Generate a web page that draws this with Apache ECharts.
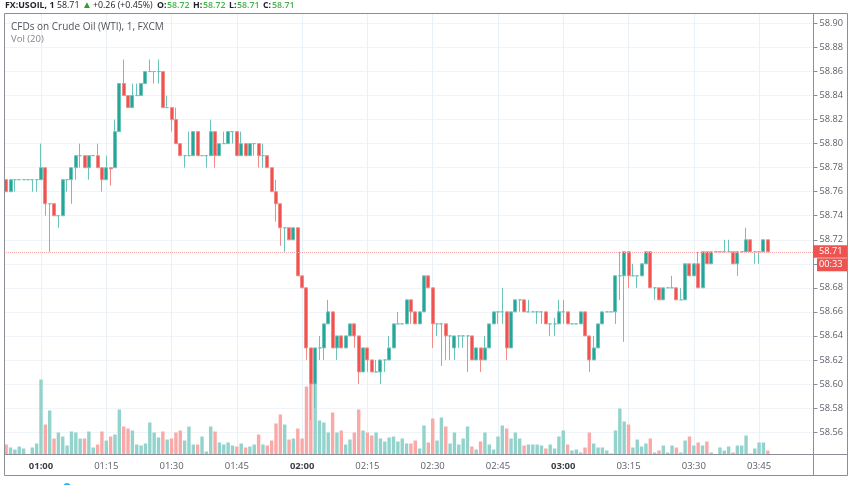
<!DOCTYPE html>
<html lang="en">

<head>
  <meta charset="UTF-8">
  <title>FX:USOIL, 1</title>
  <style>
    html, body { margin: 0; padding: 0; background: #fff; }
  </style>
</head>

<body>
  <div id="main" style="width: 852px; height: 485px;"></div>
  <script src="https://cdn.jsdelivr.net/npm/echarts@6/dist/echarts.min.js"></script>
  <script type="text/javascript">
    // one minute bars, first one is 00:52
    var opens = [
      58.77,58.76,58.77,58.77,58.77,58.77,58.77,58.77,58.77,58.78,
      58.75,58.75,58.74,58.74,58.77,58.77,58.78,58.79,58.79,58.78,
      58.79,58.79,58.78,58.77,58.78,58.78,58.81,58.85,58.84,58.83,
      58.84,58.84,58.85,58.86,58.86,58.86,58.86,58.83,58.83,58.82,
      58.80,58.79,58.79,58.79,58.81,58.79,58.79,58.79,58.81,58.79,
      58.80,58.80,58.81,58.81,58.79,58.80,58.79,58.80,58.80,58.79,
      58.79,58.78,58.76,58.75,58.73,58.73,58.72,58.73,58.69,58.68,
      58.63,58.60,58.63,58.63,58.65,58.66,58.63,58.64,58.63,58.64,
      58.65,58.64,58.61,58.63,58.62,58.61,58.61,58.62,58.62,58.63,
      58.65,58.65,58.65,58.67,58.66,58.65,58.66,58.69,58.68,58.65,
      58.65,58.65,58.64,58.63,58.64,58.64,58.64,58.64,58.62,58.63,
      58.62,58.63,58.65,58.66,58.66,58.66,58.63,58.66,58.67,58.67,
      58.66,58.66,58.66,58.66,58.66,58.65,58.65,58.65,58.66,58.66,
      58.65,58.65,58.65,58.66,58.64,58.62,58.63,58.65,58.66,58.66,
      58.66,58.69,58.69,58.71,58.69,58.69,58.69,58.70,58.71,58.68,
      58.68,58.67,58.68,58.68,58.68,58.67,58.67,58.70,58.69,58.70,
      58.68,58.71,58.70,58.71,58.71,58.71,58.71,58.71,58.70,58.71,
      58.71,58.72,58.71,58.71,58.71,58.72
    ];
    var closes = [
      58.76,58.77,58.77,58.77,58.77,58.77,58.77,58.77,58.78,58.75,
      58.75,58.74,58.74,58.77,58.77,58.78,58.79,58.79,58.78,58.79,
      58.79,58.78,58.77,58.78,58.779,58.81,58.85,58.84,58.83,58.84,
      58.84,58.85,58.86,58.86,58.86,58.86,58.83,58.83,58.82,58.80,
      58.79,58.79,58.79,58.81,58.79,58.79,58.79,58.81,58.79,58.80,
      58.80,58.81,58.81,58.79,58.80,58.79,58.80,58.80,58.79,58.79,
      58.78,58.76,58.75,58.73,58.73,58.72,58.73,58.69,58.68,58.63,
      58.60,58.63,58.63,58.65,58.66,58.63,58.64,58.63,58.64,58.65,
      58.64,58.61,58.63,58.62,58.61,58.61,58.62,58.62,58.63,58.65,
      58.65,58.65,58.67,58.66,58.65,58.66,58.69,58.68,58.65,58.65,
      58.65,58.64,58.64,58.64,58.64,58.64,58.64,58.62,58.63,58.62,
      58.63,58.65,58.66,58.66,58.66,58.63,58.66,58.67,58.67,58.66,
      58.66,58.66,58.66,58.66,58.65,58.65,58.65,58.66,58.66,58.65,
      58.65,58.65,58.66,58.64,58.62,58.63,58.65,58.66,58.66,58.66,
      58.69,58.69,58.71,58.69,58.69,58.69,58.70,58.71,58.68,58.68,
      58.67,58.68,58.68,58.68,58.67,58.67,58.70,58.69,58.70,58.68,
      58.71,58.70,58.71,58.71,58.71,58.71,58.71,58.70,58.71,58.71,
      58.72,58.71,58.71,58.71,58.72,58.71
    ];
    var lows = [
      58.76,58.76,58.76,58.77,58.77,58.77,58.76,58.76,58.77,58.74,
      58.71,58.74,58.73,58.74,58.76,58.75,58.77,58.78,58.78,58.77,
      58.79,58.78,58.76,58.77,58.765,58.78,58.81,58.84,58.83,58.83,
      58.84,58.84,58.85,58.86,58.85,58.85,58.83,58.83,58.81,58.80,
      58.79,58.78,58.79,58.79,58.79,58.79,58.78,58.79,58.78,58.79,
      58.80,58.80,58.80,58.79,58.79,58.79,58.79,58.79,58.78,58.78,
      58.78,58.76,58.735,58.715,58.71,58.72,58.72,58.69,58.68,58.62,
      58.57,58.58,58.62,58.62,58.65,58.63,58.62,58.63,58.63,58.64,
      58.63,58.60,58.61,58.61,58.61,58.61,58.60,58.61,58.62,58.63,
      58.65,58.65,58.65,58.65,58.65,58.65,58.66,58.68,58.63,58.64,
      58.615,58.62,58.62,58.62,58.63,58.63,58.61,58.62,58.62,58.61,
      58.62,58.63,58.65,58.65,58.65,58.62,58.63,58.66,58.66,58.66,
      58.66,58.66,58.65,58.65,58.65,58.64,58.64,58.65,58.65,58.65,
      58.65,58.65,58.65,58.64,58.61,58.62,58.63,58.65,58.66,58.66,
      58.65,58.67,58.635,58.68,58.69,58.68,58.69,58.70,58.68,58.67,
      58.67,58.67,58.68,58.68,58.67,58.67,58.67,58.69,58.69,58.68,
      58.68,58.70,58.70,58.71,58.71,58.71,58.71,58.70,58.69,58.71,
      58.71,58.71,58.70,58.70,58.71,58.71
    ];
    var highs = [
      58.77,58.77,58.77,58.77,58.77,58.77,58.77,58.77,58.80,58.78,
      58.75,58.75,58.74,58.77,58.77,58.78,58.79,58.80,58.79,58.79,
      58.79,58.80,58.78,58.79,58.78,58.82,58.85,58.87,58.84,58.85,
      58.85,58.85,58.86,58.87,58.86,58.87,58.86,58.84,58.83,58.83,
      58.80,58.79,58.81,58.81,58.81,58.79,58.79,58.82,58.81,58.80,
      58.81,58.81,58.81,58.81,58.81,58.80,58.80,58.80,58.80,58.80,
      58.79,58.78,58.77,58.75,58.73,58.73,58.73,58.73,58.69,58.68,
      58.63,58.63,58.64,58.65,58.67,58.66,58.64,58.64,58.64,58.65,
      58.65,58.64,58.63,58.63,58.62,58.62,58.62,58.62,58.64,58.65,
      58.66,58.65,58.67,58.67,58.66,58.66,58.69,58.69,58.68,58.65,
      58.65,58.65,58.64,58.64,58.64,58.64,58.64,58.64,58.63,58.63,
      58.64,58.65,58.66,58.66,58.68,58.66,58.66,58.67,58.67,58.67,
      58.67,58.66,58.66,58.66,58.66,58.65,58.655,58.67,58.67,58.66,
      58.65,58.65,58.66,58.66,58.64,58.64,58.65,58.66,58.66,58.66,
      58.69,58.71,58.71,58.71,58.70,58.69,58.70,58.71,58.71,58.68,
      58.68,58.68,58.68,58.69,58.68,58.68,58.70,58.70,58.70,58.71,
      58.71,58.71,58.71,58.71,58.71,58.72,58.72,58.71,58.71,58.71,
      58.73,58.72,58.71,58.71,58.72,58.72
    ];
    var volumes = [
      10,7,5,8,6,0,7,11,75,30,
      44,16,22,18,9,23,22,16,16,23,
      7,10,23,14,18,20,45,28,26,24,
      10,9,11,32,22,17,23,15,16,22,
      24,14,28,10,10,18,3,28,23,12,
      10,12,9,8,11,7,8,10,20,10,
      9,14,31,40,30,15,16,26,16,68,
      71,71,34,32,22,42,22,24,10,15,
      22,45,24,22,19,22,16,13,17,18,
      13,16,11,11,14,6,29,12,36,14,
      37,28,11,22,10,16,28,8,5,13,
      22,10,5,18,29,26,16,22,16,9,
      10,10,10,9,6,10,6,18,24,10,
      4,5,2,7,22,11,7,7,4,1,
      24,46,33,30,7,15,8,11,16,2,
      4,9,2,9,7,2,14,18,9,12,
      9,13,2,0,7,4,8,2,9,9,
      19,1,6,12,12,4
    ];
    var timeTicks = ['01:00', '01:15', '01:30', '01:45', '02:00', '02:15', '02:30', '02:45', '03:00', '03:15', '03:30', '03:45'];
    var boldTicks = ['01:00', '02:00', '03:00'];
    var lastPrice = 58.71;
    var countdown = '00:33';

    var UP = '#26a69a', DOWN = '#ef5350';
    var FONT = '"Open Sans", sans-serif';
    var SIZE = 9.5;
    var HEAD = 8.8;
    var LINE = '#8b8e96';

    // the axis runs on past the last bar, leaving the empty space on the right
    var categories = [];
    for (var m = 52; m < 52 + 186; m++) {
      var hh = Math.floor(m / 60), mm = m % 60;
      categories.push('0' + hh + ':' + (mm < 10 ? '0' : '') + mm);
    }
    function onTick(index, value) { return timeTicks.indexOf(value) >= 0; }

    var candles = opens.map(function (o, i) { return [o, closes[i], lows[i], highs[i]]; });
    var volBars = volumes.map(function (v, i) {
      return { value: v, itemStyle: { color: closes[i] < opens[i] ? '#f9aaa8' : '#93d3cc' } };
    });

    var myChart = echarts.init(document.getElementById('main'));
    myChart.setOption({
      animation: false,
      textStyle: { fontFamily: FONT },
      grid: [
        { left: 4, top: 23.5, width: 809.5, height: 408.5 },
        { left: 4, top: 14, width: 809.5, height: 440.5 }
      ],
      xAxis: [
        {
          type: 'category', gridIndex: 0, data: categories,
          axisLine: { show: false }, axisTick: { show: false }, axisLabel: { show: false }, splitLine: { show: false }
        },
        {
          type: 'category', gridIndex: 1, data: categories,
          axisLine: { show: false },
          axisTick: { interval: onTick, alignWithLabel: true, length: 4, lineStyle: { color: LINE } },
          splitLine: { show: true, interval: onTick, alignWithLabel: true, lineStyle: { color: '#e9f0f6', width: 1 } },
          axisLabel: {
            interval: onTick, margin: 7, fontSize: SIZE, color: '#5d606b', hideOverlap: false,
            formatter: function (v) { return boldTicks.indexOf(v) >= 0 ? '{b|' + v + '}' : v; },
            rich: { b: { fontFamily: FONT, fontSize: SIZE, fontWeight: 'bold', color: '#3c3f47' } }
          }
        }
      ],
      yAxis: [
        {
          type: 'value', gridIndex: 0, position: 'right', min: 58.56, max: 58.90, interval: 0.02,
          axisLine: { show: false },
          axisTick: { show: true, length: 4, lineStyle: { color: LINE } },
          axisLabel: { margin: 6, fontSize: 9.2, color: '#5d606b', formatter: function (v) { return v.toFixed(2); } },
          splitLine: { lineStyle: { color: '#f0f3f7', width: 1 } }
        },
        {
          type: 'value', gridIndex: 1, min: 0, max: 440.5,
          axisLine: { show: false }, axisTick: { show: false }, axisLabel: { show: false }, splitLine: { show: false }
        }
      ],
      series: [
        {
          name: 'Vol', type: 'bar', xAxisIndex: 1, yAxisIndex: 1, data: volBars,
          barWidth: 3.4, z: 2
        },
        {
          name: 'USOIL', type: 'candlestick', xAxisIndex: 0, yAxisIndex: 0, data: candles,
          barWidth: 3.5, z: 3,
          itemStyle: { color: UP, color0: DOWN, borderColor: '#6cc4b9', borderColor0: '#f48a88', borderWidth: 1 },
          markLine: {
            silent: true, symbol: 'none', label: { show: false },
            lineStyle: { color: '#f6a9a7', type: 'dotted', width: 1 },
            data: [{ yAxis: lastPrice }]
          }
        }
      ]
    });

    // last price tags sit on the axis at the price they show
    var lastY = myChart.convertToPixel({ yAxisIndex: 0 }, lastPrice);

    function hLine(x1, x2, y) {
      return { type: 'line', z: 50, shape: { x1: x1, y1: y, x2: x2, y2: y }, style: { stroke: LINE, lineWidth: 1 } };
    }
    function vLine(x, y1, y2) {
      return { type: 'line', z: 50, shape: { x1: x, y1: y1, x2: x, y2: y2 }, style: { stroke: LINE, lineWidth: 1 } };
    }
    function label(x, y, text, style) {
      return { type: 'text', z: 60, x: x, y: y, style: Object.assign({ text: text, fontFamily: FONT, fontSize: SIZE, fill: '#6a6f7a', verticalAlign: 'middle' }, style) };
    }
    var bold = { fontWeight: 'bold', fontSize: HEAD, fill: '#20232b' };
    var green = { fontSize: HEAD, fontWeight: 600, fill: '#43b048' };
    var plain = { fontSize: HEAD, fill: '#20232b' };

    myChart.setOption({
      graphic: [
        hLine(4.5, 847.5, 13.5),
        hLine(4.5, 847.5, 475.5),
        hLine(4.5, 847.5, 454.5),
        vLine(4.5, 13.5, 475.5),
        vLine(813.5, 13.5, 475.5),
        vLine(847.5, 13.5, 475.5),
        { type: 'rect', z: 55, shape: { x: 813, y: lastY - 6.5, width: 34, height: 12.5 }, style: { fill: DOWN } },
        { type: 'rect', z: 55, shape: { x: 817, y: lastY + 6.5, width: 30, height: 13 }, style: { fill: DOWN } },
        label(819, lastY, lastPrice.toFixed(2), { fill: '#fff', fontSize: 9.2 }),
        label(819, lastY + 13, countdown, { fill: '#fff', fontSize: 9.2 }),
        label(11, 27.5, 'CFDs on Crude Oil (WTI), 1, FXCM', { fill: '#4f535e', fontSize: 10 }),
        label(11, 39.5, 'Vol (20)', { fill: '#80848e' }),
        // header line, pieces placed one by one
        label(5, 5, 'FX:USOIL, 1', bold),
        label(57, 5, '58.71', plain),
        label(82, 5, '▲', { fill: '#2e9e2e', fontSize: 10 }),
        label(93, 5, '+0.26 (+0.45%)', plain),
        label(157, 5, 'O:', bold),
        label(167, 5, '58.72', green),
        label(193, 5, 'H:', bold),
        label(203, 5, '58.72', green),
        label(229, 5, 'L:', bold),
        label(237, 5, '58.71', green),
        label(263, 5, 'C:', bold),
        label(272, 5, '58.71', green),
        { type: 'circle', z: 60, shape: { cx: 67, cy: 486.5, r: 3.5 }, style: { fill: '#2bb5f0' } }
      ]
    });
  </script>
</body>

</html>
